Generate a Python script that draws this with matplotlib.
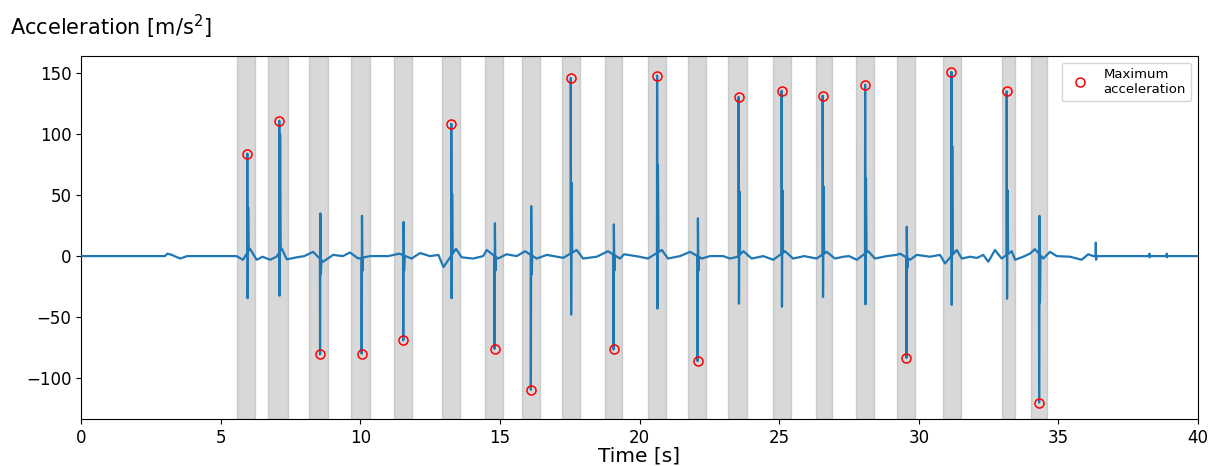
import numpy as np
import matplotlib
matplotlib.use("Agg")
import matplotlib.pyplot as plt

# ---- data ----
# baseline (slow) acceleration knots
base_t = [0, 3.0, 3.1, 3.25, 3.55, 3.8, 5.57, 5.8, 6.05, 6.29, 6.5, 6.77, 7.0, 7.19, 7.37,
          7.72, 8.0, 8.31, 8.67, 9.03, 9.38, 9.63, 9.93, 10.35, 11.0, 11.4, 11.84, 12.14,
          12.5, 12.8, 12.98, 13.43, 13.63, 14.04, 14.40, 14.53, 14.93, 15.24, 15.6, 15.9,
          16.32, 16.68, 17.04, 17.27, 17.75, 17.98, 18.47, 18.87, 19.3, 19.45, 20.0, 20.3,
          20.8, 21.02, 21.45, 21.81, 22.23, 22.52, 23.0, 23.24, 23.52, 23.72, 24.02, 24.43,
          24.79, 25.21, 25.5, 25.9, 26.34, 26.7, 27.0, 27.3, 27.5, 27.78, 28.19, 28.43,
          28.85, 29.21, 29.33, 29.69, 29.93, 30.4, 30.76, 30.94, 31.36, 31.54, 31.84, 32.08,
          32.31, 32.49, 32.73, 32.97, 33.33, 33.45, 33.74, 33.98, 34.16, 34.46, 34.70,
          34.94, 35.42, 35.83, 36.07, 36.25, 36.5, 40.0]
base_v = [0, 0, 2, 1, -2, 0, 0, -3, 6, -3, -0.5, -3, -0.5, 6, -2.7,
          -1, 0, 3.5, -4.6, 1, 0, 3, -2, 0, 0, 2, -2, 2.5,
          0, 1, -9, 6, -1, -2, 0, 5, -2, 1.5, 0, 4,
          -2, 1, -0.5, -1.4, 5, -2, -0.5, 4, -2, 1.5, -0.5, -2,
          5, -2, 0, 3.5, -2, 0, 0, -2, -0.5, 4, -2, 0,
          -3, 4, -2, 0, -2, 3.5, -2, -0.5, 0, -3, 4, -2,
          0, 1, 2, -3, 1, -0.5, 1, -6, 5, -2, -0.5, -1.5,
          1, -4.6, 5, -2, 4, -3, -0.5, 2, 5.7, -2, 3.5,
          0, -0.5, -3, 1.5, 0, 0, 0]

# impacts: time, maximum acceleration, opposite swing, secondary swing
spike_t = [5.955, 7.10, 8.56, 10.05, 11.54, 13.26, 14.81, 16.11, 17.54, 19.07,
           20.63, 22.08, 23.55, 25.09, 26.56, 28.08, 29.56, 31.17, 33.15, 34.31]
spike_peak = [84, 111, -80.5, -80, -69, 108.5, -76, -109.5, 146, -76.5,
              148, -86, 130.5, 135.5, 131.5, 140.5, -83.5, 151, 135, -120]
spike_counter = [-34.5, -32.5, 35, 33, 28, -34.5, 27, 41, -48, 26,
                 -43, 31, -39, -41.5, -33.5, -39.5, 24, -40, -35, 33]
spike_second = [40, 100, -15, -12, -12, 51, -12, -15, 60, -12,
                75, -12, 53, 54, 57, 64, -10, 90, 54, -38]

# small blips after the exercise
blip_t = [36.34, 38.26, 38.88]
blip_hi = [11, 2, 2]
blip_lo = [-3, -1, -1]

# shaded impact windows
span_start = [5.59, 6.70, 8.16, 9.67, 11.21, 12.93, 14.47, 15.79, 17.22, 18.76,
              20.30, 21.74, 23.17, 24.78, 26.32, 27.75, 29.22, 30.87, 32.98, 34.02]
span_end = [6.23, 7.41, 8.85, 10.35, 11.85, 13.57, 15.11, 16.44, 17.87, 19.37,
            20.95, 22.38, 23.85, 25.42, 26.89, 28.40, 29.87, 31.51, 33.45, 34.59]

# ---- build the signal from the read points ----
pts = list(zip(base_t, base_v))
for t, p, c, s in zip(spike_t, spike_peak, spike_counter, spike_second):
    pts.append((t - 0.005, float(np.interp(t - 0.005, base_t, base_v))))
    pts.append((t, p))
    pts.append((t + 0.012, c))
    pts.append((t + 0.03, s))
    pts.append((t + 0.05, float(np.interp(t + 0.05, base_t, base_v))))
for t, h, l in zip(blip_t, blip_hi, blip_lo):
    pts.append((t - 0.004, 0.0))
    pts.append((t, h))
    pts.append((t + 0.01, l))
    pts.append((t + 0.03, 0.0))
pts.sort(key=lambda q: q[0])
sig_t = np.array([q[0] for q in pts])
sig_v = np.array([q[1] for q in pts])

# ---- plot ----
fig = plt.figure(figsize=(12.1, 4.66), dpi=100)
ax = fig.add_axes([81 / 1210, 47 / 466, (1198 - 81) / 1210, (419 - 56) / 466])

for a, b in zip(span_start, span_end):
    ax.axvspan(a, b, color="gray", alpha=0.3)

ax.plot(sig_t, sig_v, color="#1f77b4", lw=1.6, zorder=3)
ax.plot(spike_t, spike_peak, "o", mfc="none", mec="red", ms=6.5, mew=1.1,
        zorder=4, label="Maximum\nacceleration")

ax.set_xlim(0, 40)
ax.set_ylim(-133.5, 164)
ax.set_xticks(range(0, 41, 5))
ax.set_yticks([-100, -50, 0, 50, 100, 150])
ax.tick_params(labelsize=12)
ax.set_xlabel("Time [s]", fontsize=14.5, labelpad=0)
fig.text(10 / 1210, 1 - 27 / 466, "Acceleration [m/s$^2$]", fontsize=15,
         ha="left", va="center")
ax.legend(loc="upper right", fontsize=9.5)

fig.savefig("out.png", dpi=100)
